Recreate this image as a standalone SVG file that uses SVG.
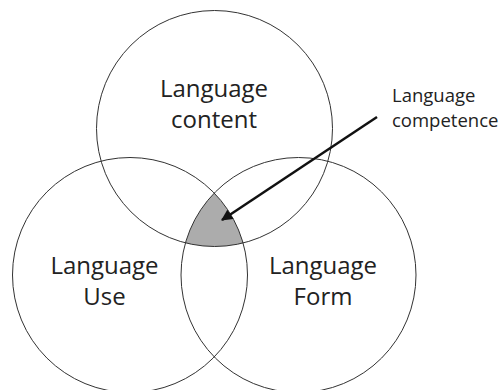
<svg xmlns="http://www.w3.org/2000/svg" width="501" height="390" viewBox="0 0 501 390">
<style>
.c{fill:none;stroke:#333;stroke-width:1}
.t{font-family:"Open Sans","Noto Sans",sans-serif;font-size:24px;fill:#222;text-anchor:middle}
.s{font-family:"Open Sans","Noto Sans",sans-serif;font-size:18.5px;fill:#222}
</style>
<defs>
<clipPath id="cl"><circle cx="130" cy="275" r="117.5"/></clipPath>
<clipPath id="cr"><circle cx="298.5" cy="275" r="117.5"/></clipPath>
<marker id="ah" viewBox="0 0 10 10" refX="9" refY="5" markerWidth="5" markerHeight="4.5" orient="auto" markerUnits="strokeWidth"><path d="M0,0 L10,5 L0,10 z" fill="#111"/></marker>
</defs>
<rect width="501" height="390" fill="#fff"/>
<g id="competence-area" clip-path="url(#cl)"><circle cx="214.5" cy="128.5" r="118" fill="#acacac" clip-path="url(#cr)"/></g>
<g id="content"><circle class="c" cx="214.5" cy="128.5" r="118"/><text class="t" x="214" y="97">Language</text><text class="t" x="214" y="128">content</text></g>
<g id="use"><circle class="c" cx="130" cy="275" r="117.5"/><text class="t" x="104.5" y="274">Language</text><text class="t" x="104.5" y="305">Use</text></g>
<g id="form"><circle class="c" cx="298.5" cy="275" r="117.5"/><text class="t" x="323" y="274">Language</text><text class="t" x="323" y="305">Form</text></g>
<g id="label"><text class="s" x="392" y="102">Language</text><text class="s" x="392" y="127">competence</text></g>
<g id="connectors"><line x1="377" y1="117" x2="222" y2="220" stroke="#111" stroke-width="2.5" marker-end="url(#ah)"/></g>
</svg>
